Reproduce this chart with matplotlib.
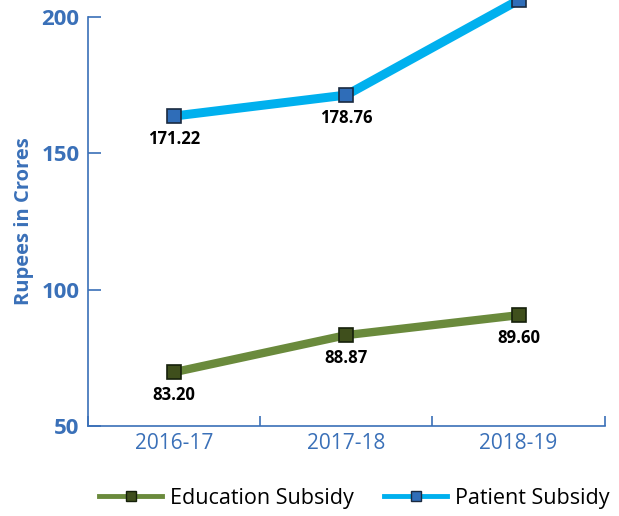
import matplotlib
matplotlib.use("Agg")
import matplotlib.pyplot as plt
from matplotlib.lines import Line2D

plt.rcParams['font.family'] = ['Open Sans', 'DejaVu Sans']

years = ["2016-17", "2017-18", "2018-19"]
patient_values = [163.7, 171.4, 206.2]
patient_labels = ["171.22", "178.76", "222.26"]
education_values = [69.8, 83.4, 90.7]
education_labels = ["83.20", "88.87", "89.60"]
yticks = [50, 100, 150, 200]

blue = "#3a70b8"
edu_line = "#6a8a3c"
edu_marker = "#3f4f1c"
pat_line = "#00b0ee"
pat_marker = "#2f6db8"

fig = plt.figure(figsize=(6.19, 5.16), dpi=100)
ax = fig.add_axes([0.142, 0.174, 0.835, 0.793])

x = list(range(len(years)))
ax.plot(x, patient_values, color=pat_line, lw=6.5, solid_capstyle='butt',
        marker='s', markersize=10, markerfacecolor=pat_marker,
        markeredgecolor='#1a2a40', markeredgewidth=1.2, clip_on=False, zorder=3)
ax.plot(x, education_values, color=edu_line, lw=6, solid_capstyle='butt',
        marker='s', markersize=10, markerfacecolor=edu_marker,
        markeredgecolor='#15200a', markeredgewidth=1.2, clip_on=False, zorder=3)

for xi, v, lab in zip(x, patient_values, patient_labels):
    ax.annotate(lab, (xi, v), xytext=(0, -10), textcoords='offset points',
                ha='center', va='top', fontsize=12, fontweight='bold', color='black')
for xi, v, lab in zip(x, education_values, education_labels):
    ax.annotate(lab, (xi, v), xytext=(0, -10), textcoords='offset points',
                ha='center', va='top', fontsize=12, fontweight='bold', color='black')

ax.set_xlim(-0.5, 2.5)
ax.set_ylim(50, 200)
ax.set_yticks(yticks)
ax.set_yticklabels([str(t) for t in yticks], fontsize=16, fontweight='bold', color=blue)
ax.tick_params(axis='y', direction='in', length=9, width=1.2, color=blue, pad=6)

ax.set_xticks([-0.5, 0.5, 1.5, 2.5])
ax.set_xticklabels([])
ax.set_xticks(x, minor=True)
ax.set_xticklabels(years, minor=True, fontsize=15, color=blue)
ax.tick_params(axis='x', which='major', direction='in', length=7, width=1.2, color=blue)
ax.tick_params(axis='x', which='minor', length=0, pad=5)

for s in ['top', 'right']:
    ax.spines[s].set_visible(False)
for s in ['left', 'bottom']:
    ax.spines[s].set_color(blue)
    ax.spines[s].set_linewidth(1.2)

ax.set_ylabel("Rupees in Crores", fontsize=14.5, fontweight='bold', color=blue, labelpad=5)

handles = [
    Line2D([], [], color=edu_line, lw=3.5, marker='s', markersize=6.5,
           markerfacecolor=edu_marker, markeredgecolor='#15200a', markeredgewidth=1),
    Line2D([], [], color=pat_line, lw=3.5, marker='s', markersize=6.5,
           markerfacecolor=pat_marker, markeredgecolor='#1a2a40', markeredgewidth=1),
]
fig.legend(handles, ["Education Subsidy", "Patient Subsidy"], loc='center',
           bbox_to_anchor=(0.573, 0.034), ncol=2, frameon=False, fontsize=15.5,
           handlelength=2.9, columnspacing=1.4, handletextpad=0.4)

fig.savefig("out.png", dpi=100)
